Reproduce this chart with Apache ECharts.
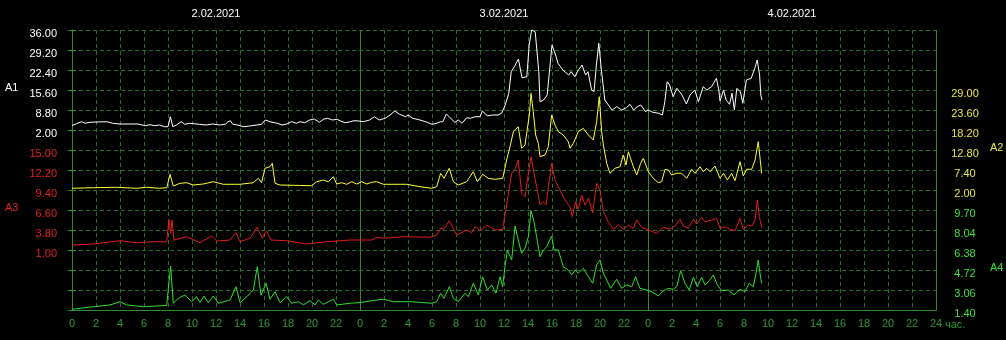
<!DOCTYPE html>
<html>
<head>
<meta charset="utf-8">
<script src="https://cdn.jsdelivr.net/npm/echarts@6/dist/echarts.min.js"></script>
<style>
html,body{margin:0;padding:0;background:#000;}
#chart{width:1006px;height:340px;}
</style>
</head>
<body>
<div id="chart"></div>
<script>
// ---------- data ----------
const dates = ['2.02.2021', '3.02.2021', '4.02.2021'];
const seriesNames = ['A1', 'A2', 'A3', 'A4'];
const hourUnit = 'час.';

// tick labels (top to bottom)
const a1Ticks = ['36.00', '29.20', '22.40', '15.60', '8.80', '2.00'];
const a3Ticks = ['15.00', '12.20', '9.40', '6.60', '3.80', '1.00'];
const a2Ticks = ['29.00', '23.60', '18.20', '12.80', '7.40', '2.00'];
const a4Ticks = ['9.70', '8.04', '6.38', '4.72', '3.06', '1.40'];

// [hour since start of 2.02.2021, value]
const a1Data = [[0,3.53],[0.8,4.82],[1.1,4.28],[1.5,4.62],[2,4.72],[2.9,4.82],[3.4,4.28],[4,4.04],[5.5,4.04],[6.1,3.46],[6.5,3.8],[6.9,3.46],[7.3,3.7],[7.7,3.12],[8.0,3.12],[8.2,6.52],[8.4,3.12],[8.7,3.7],[9.1,4.82],[9.4,3.94],[9.8,4.28],[10.6,3.94],[11.2,3.7],[11.7,4.04],[12.3,3.7],[12.8,4.04],[13.0,4.82],[13.2,5.16],[13.4,3.94],[13.8,3.7],[14.3,3.12],[14.8,3.36],[15.4,3.7],[15.8,3.94],[16.1,5.4],[16.5,4.82],[17.1,4.28],[17.5,3.7],[17.9,4.04],[18.3,4.82],[18.7,4.28],[19.0,4.82],[19.4,4.48],[19.8,5.4],[20.2,5.74],[20.6,4.62],[21.0,5.74],[21.3,5.98],[21.7,5.4],[22.1,5.64],[22.5,4.82],[22.8,4.48],[23.2,4.82],[23.5,5.16],[23.9,5.06],[24.3,4.82],[24.8,5.4],[25.2,6.52],[25.6,5.4],[26.1,5.98],[26.5,7.1],[26.9,8.46],[27.3,7.34],[27.8,6.52],[28.0,7.1],[28.4,5.98],[29.0,5.4],[29.6,4.62],[30.0,3.94],[30.4,4.28],[30.7,4.82],[30.9,4.82],[31.2,7.44],[31.5,6.18],[31.9,4.62],[32.2,5.4],[32.5,4.28],[32.9,6.18],[33.2,5.98],[33.6,6.52],[34.0,6.52],[34.2,8.46],[34.6,6.86],[35.1,7.1],[35.5,7.1],[35.8,7.68],[36.1,10.5],[36.4,14.48],[36.6,21.82],[36.9,23.86],[37.2,26.14],[37.5,19.78],[37.9,20.12],[38.1,30.9],[38.3,36.0],[38.6,35.4],[38.7,30.9],[38.9,21.82],[39.0,11.62],[39.3,12.2],[39.6,13.9],[40.0,30.9],[40.3,27.5],[40.5,24.68],[40.9,22.4],[41.4,20.7],[41.6,21.82],[41.9,20.12],[42.2,22.4],[42.5,24.1],[42.8,20.7],[43.0,21.82],[43.3,15.6],[43.5,15.02],[43.7,24.1],[43.9,31.48],[44.1,22.98],[44.4,12.2],[44.7,10.5],[45.0,8.8],[45.4,9.92],[45.8,8.8],[46.2,9.58],[46.5,10.74],[46.8,8.8],[47.1,9.92],[47.4,10.5],[47.8,8.22],[48.0,8.8],[48.4,8.02],[48.9,7.68],[49.2,7.1],[49.4,11.62],[49.6,18.42],[49.8,17.3],[50.1,13.32],[50.4,16.18],[50.8,14.14],[51.2,10.84],[51.5,13.9],[51.9,15.6],[52.2,11.62],[52.6,16.72],[52.9,15.6],[53.3,16.72],[53.7,19.58],[53.9,15.6],[54.0,11.86],[54.3,15.6],[54.5,12.2],[54.8,10.74],[55.0,14.48],[55.2,8.8],[55.4,16.18],[55.7,15.02],[55.9,11.08],[56.2,19.0],[56.6,19.58],[56.9,22.98],[57.1,25.8],[57.3,20.7],[57.4,13.9],[57.5,12.2]];

const a2Data = [[0,2.46],[1.8,2.62],[3.6,2.73],[5.4,2.46],[6.2,2.73],[7.3,2.46],[7.9,2.62],[8.17,6.24],[8.44,3.08],[9.0,3.81],[9.56,3.97],[10.1,3.35],[10.94,3.62],[11.78,4.24],[12.6,3.54],[14.0,3.54],[15.1,3.97],[15.53,5.16],[15.8,3.97],[16.08,7.86],[16.5,8.29],[16.69,9.21],[16.92,3.81],[17.33,3.35],[19.97,3.16],[20.39,4.24],[20.94,4.7],[21.36,4.24],[21.78,5.59],[22.06,3.62],[22.47,3.97],[22.89,3.54],[23.31,4.24],[23.72,3.62],[24.14,4.24],[24.56,3.62],[24.97,4.08],[25.39,4.24],[25.94,3.54],[27.89,3.54],[29.0,2.89],[29.97,2.46],[30.39,2.89],[30.72,6.51],[31.0,5.16],[31.44,7.86],[31.78,4.24],[32.19,3.35],[32.89,4.24],[33.44,6.94],[33.78,4.24],[34.22,6.24],[34.69,5.16],[35.25,4.89],[35.89,5.16],[36.22,10.1],[36.5,13.69],[36.78,17.74],[37.19,19.09],[37.47,13.26],[37.75,14.15],[38.11,22.25],[38.25,28.1],[38.44,23.14],[38.64,16.85],[38.86,14.6],[39.0,11.0],[39.42,11.45],[39.69,13.69],[39.97,22.25],[40.25,19.55],[40.53,17.74],[40.94,16.85],[41.36,15.04],[41.5,13.26],[41.78,14.6],[42.19,17.74],[42.61,18.66],[43.03,16.85],[43.44,15.5],[43.72,20.44],[43.94,27.19],[44.14,17.74],[44.28,14.15],[44.56,9.21],[44.83,6.51],[45.25,7.86],[45.67,8.29],[45.94,11.45],[46.17,8.75],[46.36,12.34],[46.78,8.29],[47.06,6.05],[47.39,9.21],[47.61,10.56],[48.03,6.94],[48.44,5.16],[48.86,3.97],[49.14,4.24],[49.42,7.59],[49.69,7.4],[49.97,6.05],[50.39,6.51],[50.81,6.51],[51.22,5.16],[51.64,7.59],[51.92,6.51],[52.33,8.29],[52.61,6.94],[52.89,7.86],[53.17,6.94],[53.58,8.48],[54.0,5.16],[54.28,6.51],[54.61,4.7],[54.97,6.51],[55.25,4.51],[55.67,9.64],[55.94,5.78],[56.22,7.59],[56.64,7.59],[56.92,10.1],[57.19,15.04],[57.47,6.51]];

const a3Data = [[0,1.7],[1.78,1.84],[2.61,2.02],[4.0,2.3],[5.39,2.02],[6.78,2.16],[7.89,2.16],[8.08,5.2],[8.22,3.34],[8.33,5.2],[8.5,2.4],[9.56,2.86],[10.67,2.02],[11.64,2.96],[12.06,2.26],[13.17,2.4],[13.67,3.42],[14.0,2.16],[14.83,2.64],[15.44,4.18],[15.86,2.64],[16.22,3.7],[16.56,2.4],[17.89,2.3],[19.56,1.84],[21.22,2.16],[23.17,2.4],[24.97,2.4],[25.39,2.8],[25.94,2.64],[27.61,2.86],[29.83,2.78],[30.39,3.1],[30.72,4.04],[31.0,3.9],[31.44,5.1],[32.06,3.1],[32.89,3.8],[33.31,3.42],[33.58,4.26],[34.0,3.7],[34.56,4.5],[35.25,3.8],[35.89,3.9],[36.17,6.84],[36.64,11.74],[36.92,12.3],[37.19,13.6],[37.47,8.94],[37.75,8.46],[38.03,11.74],[38.25,14.06],[38.5,11.74],[38.72,9.86],[39.0,7.3],[39.28,7.76],[39.5,7.3],[39.97,13.14],[40.25,10.8],[40.67,9.4],[41.08,8.0],[41.5,7.06],[41.69,5.66],[41.97,7.76],[42.19,6.7],[42.47,8.7],[42.75,7.3],[43.03,8.24],[43.39,6.22],[43.72,10.34],[44.0,9.4],[44.28,6.36],[44.69,4.96],[45.11,3.9],[45.53,4.5],[45.94,3.9],[46.36,4.5],[46.78,4.04],[47.06,5.2],[47.47,4.18],[48.03,3.8],[48.72,3.34],[49.28,4.18],[49.83,3.9],[50.25,4.36],[50.67,5.3],[50.94,4.36],[51.36,4.04],[51.78,5.3],[52.06,4.64],[52.47,5.58],[52.75,4.96],[53.31,5.2],[53.72,5.44],[54.0,4.04],[54.42,4.26],[54.83,3.9],[55.25,3.7],[55.67,5.44],[55.94,3.9],[56.36,4.5],[56.64,4.36],[56.92,5.2],[57.11,8.0],[57.28,5.66],[57.47,4.18]];

const a4Data = [[0,1.46],[1.78,1.67],[3.17,1.82],[4.0,2.09],[4.56,1.82],[5.94,1.67],[7.06,1.73],[7.89,1.78],[8.22,5.05],[8.44,1.96],[8.86,2.37],[9.42,2.65],[9.97,2.09],[10.39,2.5],[10.67,2.01],[11.0,2.56],[11.36,2.01],[11.78,2.56],[12.19,1.96],[13.17,2.23],[13.67,3.33],[14.0,2.01],[14.56,2.5],[15.11,3.06],[15.44,4.99],[15.75,2.65],[16.17,3.62],[16.5,2.29],[16.92,2.92],[17.33,2.01],[17.89,2.5],[18.31,1.96],[18.86,2.09],[19.28,1.82],[19.83,2.17],[20.25,1.82],[20.53,2.23],[20.94,1.87],[21.78,2.29],[22.06,1.82],[23.17,1.96],[24.0,2.01],[24.97,2.17],[25.94,2.29],[26.78,2.09],[28.17,2.09],[29.97,1.96],[30.39,2.09],[30.72,2.79],[31.0,2.37],[31.44,3.33],[31.78,2.37],[32.19,2.09],[32.75,2.79],[33.03,2.5],[33.44,3.62],[33.86,2.65],[34.22,4.16],[34.61,3.06],[34.97,3.48],[35.33,2.79],[35.67,4.16],[35.89,3.33],[36.08,4.99],[36.28,6.38],[36.64,5.55],[36.92,8.37],[37.19,7.21],[37.47,6.11],[37.75,6.52],[38.03,7.48],[38.25,9.64],[38.5,8.73],[38.72,7.48],[39.0,5.82],[39.28,6.38],[39.56,6.65],[39.97,7.54],[40.17,6.38],[40.53,6.38],[40.94,4.99],[41.36,4.72],[41.64,4.31],[41.92,4.72],[42.19,4.45],[42.61,4.86],[43.03,4.16],[43.39,3.62],[43.72,5.14],[44.0,5.55],[44.28,4.45],[44.56,3.89],[44.89,3.2],[45.39,3.95],[45.81,3.2],[46.22,3.48],[46.64,3.33],[46.97,4.16],[47.33,3.2],[47.89,3.06],[48.31,2.92],[48.86,2.56],[49.28,3.0],[49.69,3.2],[50.11,3.12],[50.39,3.33],[50.72,4.66],[51.08,3.62],[51.44,3.06],[51.78,4.11],[52.11,3.33],[52.47,4.11],[52.75,3.48],[53.11,3.83],[53.44,4.31],[53.78,3.48],[54.14,3.0],[54.69,3.06],[55.17,2.65],[55.67,3.12],[56.08,2.92],[56.44,3.62],[56.78,3.33],[57.0,4.45],[57.19,5.55],[57.33,4.45],[57.47,3.62]];

// ---------- layout / style ----------
const ROWS = 14;            // grid rows of the shared label axes
const FONT = 'Liberation Sans';
const C = {
  a1: '#ffffff', a2: '#ffff30', a3: '#e01c1c', a4: '#2ee02e',
  a2Txt: '#e8e840', a3Txt: '#e02020', a4Txt: '#3ee03e',
  grid: '#2a6e2a', frame: '#2f8f2f', xTxt: '#2e9a2e'
};

// each series' axis: row index of its top label, step per row
function rangeFor(ticks, topRow) {
  const top = parseFloat(ticks[0]);
  const step = parseFloat(ticks[0]) - parseFloat(ticks[1]);
  return { min: +(top - topRow * step).toFixed(4), max: +(top + (ROWS - topRow) * step).toFixed(4) };
}
const rA1 = rangeFor(a1Ticks, 14);
const rA3 = rangeFor(a3Ticks, 8);
const rA2 = rangeFor(a2Ticks, 11);
const rA4 = rangeFor(a4Ticks, 5);

function leftLabel(v) {
  v = Math.round(Number(v));
  if (v >= 9) return a1Ticks[14 - v];
  if (v >= 3) return a3Ticks[8 - v];
  return '';
}
function rightLabel(v) {
  v = Math.round(Number(v));
  if (v >= 6 && v <= 11) return a2Ticks[11 - v];
  if (v <= 5) return a4Ticks[5 - v];
  return '';
}

const chart = echarts.init(document.getElementById('chart'), null, { renderer: 'canvas' });
const option = {
  backgroundColor: '#000',
  animation: false,
  grid: { left: 72, right: 70, top: 30, bottom: 30, containLabel: false },
  xAxis: [
    { // bottom hour axis + dashed verticals
      type: 'value', min: 0, max: 72, interval: 2, position: 'bottom',
      axisLine: { show: true, lineStyle: { color: C.frame, width: 1 } },
      axisTick: { show: false },
      axisLabel: {
        color: C.xTxt, fontFamily: FONT, fontSize: 11, margin: 8,
        formatter: v => (v === 72 ? '24' : String(v % 24))
      },
      splitLine: { show: true, lineStyle: { color: C.grid, type: [4, 3], width: 1 } }
    },
    { // top frame + solid day boundaries
      type: 'value', min: 0, max: 72, interval: 24, position: 'top',
      axisLine: { show: true, lineStyle: { color: C.frame, width: 1 } },
      axisTick: { show: false }, axisLabel: { show: false },
      splitLine: { show: true, lineStyle: { color: C.frame, type: 'solid', width: 1 } }
    },
    { // dates
      type: 'value', min: 0, max: 72, interval: 12, position: 'top',
      axisLine: { show: false }, axisTick: { show: false }, splitLine: { show: false },
      axisLabel: {
        color: '#ffffff', fontFamily: FONT, fontSize: 11, margin: 11,
        formatter: v => (v % 24 === 12 ? dates[(v - 12) / 24] : '')
      }
    }
  ],
  yAxis: [
    { // left label axis
      type: 'value', min: 0, max: ROWS, interval: 1, position: 'left',
      axisLine: { show: true, lineStyle: { color: C.frame } },
      axisTick: { show: true, length: 4, lineStyle: { color: C.frame } },
      axisLabel: {
        fontFamily: FONT, fontSize: 11, margin: 15, verticalAlign: 'top', lineHeight: 8,
        formatter: leftLabel,
        color: v => (Math.round(Number(v)) >= 9 ? C.a1 : C.a3Txt)
      },
      splitLine: { show: true, lineStyle: { color: C.grid, type: [4, 3], width: 1 } }
    },
    { // right label axis
      type: 'value', min: 0, max: ROWS, interval: 1, position: 'right',
      axisLine: { show: true, lineStyle: { color: C.frame } },
      axisTick: { show: true, length: 4, lineStyle: { color: C.frame } },
      axisLabel: {
        fontFamily: FONT, fontSize: 11, margin: 29, align: 'center', verticalAlign: 'top', lineHeight: 7,
        formatter: rightLabel,
        color: v => (Math.round(Number(v)) >= 6 ? C.a2Txt : C.a4Txt)
      },
      splitLine: { show: false }
    },
    { type: 'value', show: false, min: rA1.min, max: rA1.max, splitLine: { show: false } },
    { type: 'value', show: false, min: rA2.min, max: rA2.max, splitLine: { show: false } },
    { type: 'value', show: false, min: rA3.min, max: rA3.max, splitLine: { show: false } },
    { type: 'value', show: false, min: rA4.min, max: rA4.max, splitLine: { show: false } }
  ],
  series: [
    { name: seriesNames[3], type: 'line', yAxisIndex: 5, data: a4Data, showSymbol: false, lineStyle: { color: C.a4, width: 1 } },
    { name: seriesNames[2], type: 'line', yAxisIndex: 4, data: a3Data, showSymbol: false, lineStyle: { color: C.a3, width: 1 } },
    { name: seriesNames[1], type: 'line', yAxisIndex: 3, data: a2Data, showSymbol: false, lineStyle: { color: C.a2, width: 1 } },
    { name: seriesNames[0], type: 'line', yAxisIndex: 2, data: a1Data, showSymbol: false, lineStyle: { color: C.a1, width: 1 } }
  ],
  graphic: [
    { type: 'text', x: 5, y: 88, style: { text: seriesNames[0], fill: C.a1, font: '11px ' + FONT, verticalAlign: 'middle' } },
    { type: 'text', x: 5, y: 208, style: { text: seriesNames[2], fill: C.a3Txt, font: '11px ' + FONT, verticalAlign: 'middle' } },
    { type: 'text', x: 990, y: 148, style: { text: seriesNames[1], fill: C.a2Txt, font: '11px ' + FONT, verticalAlign: 'middle' } },
    { type: 'text', x: 990, y: 268, style: { text: seriesNames[3], fill: C.a4Txt, font: '11px ' + FONT, verticalAlign: 'middle' } },
    { type: 'text', x: 945, y: 325, style: { text: hourUnit, fill: C.xTxt, font: '11px ' + FONT, verticalAlign: 'middle' } }
  ]
};
chart.setOption(option);
</script>
</body>
</html>
